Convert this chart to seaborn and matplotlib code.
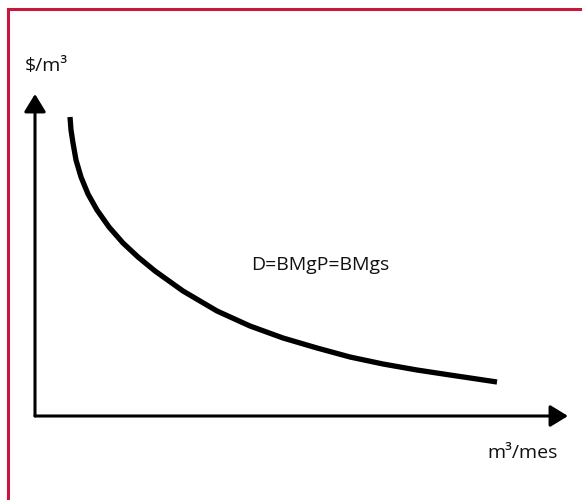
import matplotlib
matplotlib.use("Agg")
import matplotlib.pyplot as plt
import seaborn as sns
import pandas as pd
from matplotlib.patches import Rectangle

# demand curve (quantity, price), arbitrary units
cantidad = [35, 36, 38, 41, 46, 53, 62, 74, 88, 103, 120, 148, 182, 215, 248, 282, 315, 348, 382, 415, 462]
precio = [299, 286, 273, 256, 239, 222, 206, 189, 173, 159, 145, 125, 105, 90, 78, 68, 59, 52, 46, 41, 34]
curva_label = "D=BMgP=BMgs"
ylabel = "\\$/m³"
xlabel = "m³/mes"

sns.set_theme(style="white")
plt.rcParams["font.family"] = ["Open Sans", "DejaVu Sans"]

df = pd.DataFrame({"q": cantidad, "p": precio})

fig = plt.figure(figsize=(5.82, 5.0), dpi=100)
ax = fig.add_axes([0, 0, 1, 1])
ax.set_xlim(-35, 547)
ax.set_ylim(-84, 416)
ax.axis("off")

# red frame (only left and top edges fall inside the picture)
fig.patches.append(Rectangle((8 / 582, -0.05), 1.2, 1.05 - 9 / 500,
                             transform=fig.transFigure, fill=False,
                             edgecolor="#c8173c", linewidth=2.2, zorder=0))

# axes with arrows
arrow = dict(arrowstyle="-|>,head_length=0.9,head_width=0.55", color="black", lw=2.2,
             shrinkA=0, shrinkB=0)
ax.annotate("", xy=(0, 322), xytext=(0, 0), arrowprops=arrow)
ax.annotate("", xy=(533, 0), xytext=(0, 0), arrowprops=arrow)

sns.lineplot(data=df, x="q", y="p", color="black", linewidth=3.8, ax=ax, sort=False)
for l in ax.lines:
    l.set_solid_joinstyle("round")
    l.set_solid_capstyle("butt")

ax.text(285, 151, curva_label, fontsize=14, ha="center", va="center", color="#111111")
ax.text(11, 350, ylabel, fontsize=14, ha="center", va="center", color="#111111")
ax.text(488, -37, xlabel, fontsize=14, ha="center", va="center", color="#111111")

fig.savefig("out.png", dpi=100)
